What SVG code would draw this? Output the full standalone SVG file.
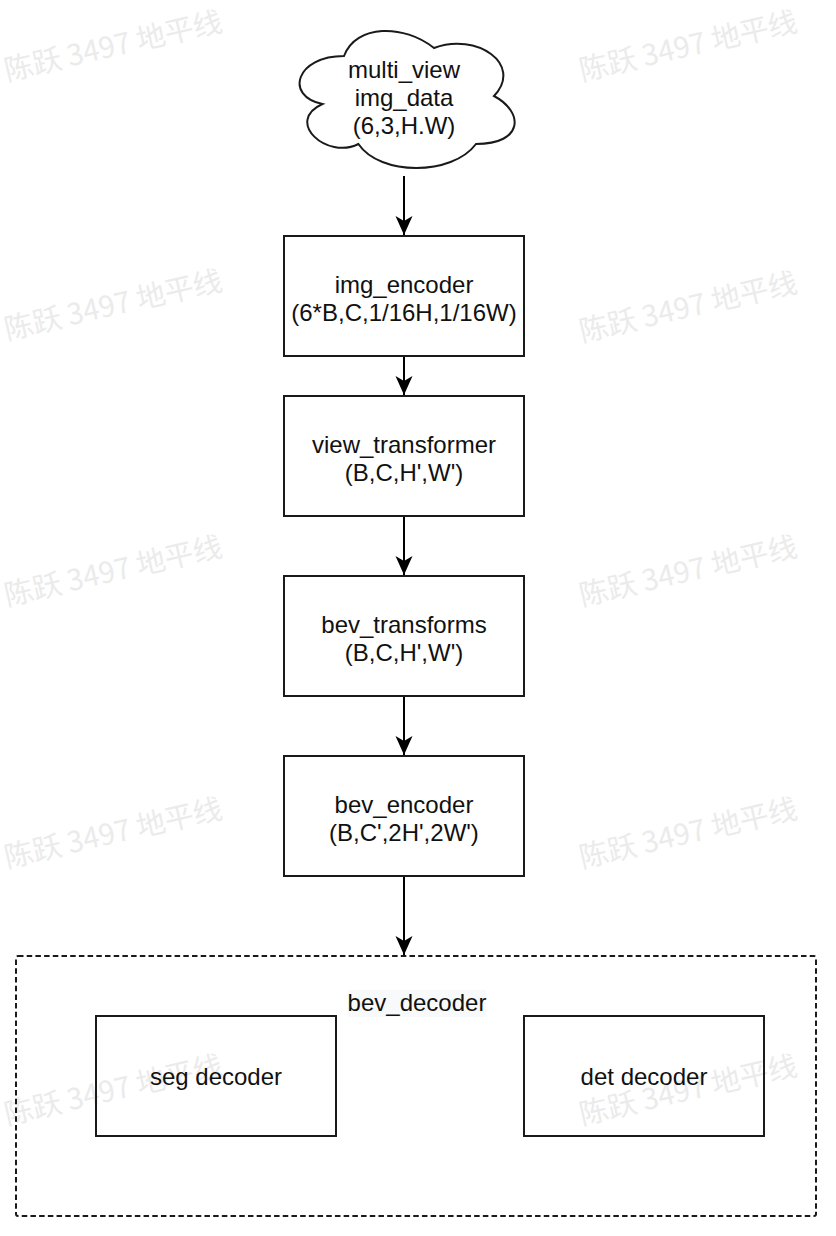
<svg xmlns="http://www.w3.org/2000/svg" width="836" height="1236" viewBox="0 0 836 1236">
<defs>
<style>
.box{fill:none;stroke:#1a1a1a;stroke-width:2}
.lbl{font-family:"Liberation Sans",Arial,sans-serif;font-size:24px;fill:#111;text-anchor:middle}
.edge{fill:none;stroke:#000;stroke-width:2}
.wm{font-family:"Noto Sans CJK SC","Noto Sans",sans-serif;font-size:29px;fill:#ebebeb}
</style>
<marker id="arr" viewBox="0 0 20 18" refX="19" refY="9" markerWidth="20" markerHeight="18" markerUnits="userSpaceOnUse" orient="auto">
<path d="M19,9 L0,0.5 L5,9 L0,17.5 Z" fill="#000"/>
</marker>
</defs>
<rect width="836" height="1236" fill="#fff"/>
<g id="watermarks">
<text class="wm" transform="translate(7,81) rotate(-13)">陈跃 3497 地平线</text>
<text class="wm" transform="translate(582,81) rotate(-13)">陈跃 3497 地平线</text>
<text class="wm" transform="translate(7,340) rotate(-13)">陈跃 3497 地平线</text>
<text class="wm" transform="translate(582,342) rotate(-13)">陈跃 3497 地平线</text>
<text class="wm" transform="translate(7,606) rotate(-13)">陈跃 3497 地平线</text>
<text class="wm" transform="translate(582,606) rotate(-13)">陈跃 3497 地平线</text>
<text class="wm" transform="translate(7,868) rotate(-13)">陈跃 3497 地平线</text>
<text class="wm" transform="translate(582,868) rotate(-13)">陈跃 3497 地平线</text>
<text class="wm" transform="translate(7,1125) rotate(-13)">陈跃 3497 地平线</text>
<text class="wm" transform="translate(582,1125) rotate(-13)">陈跃 3497 地平线</text>
</g>
<g id="connectors">
<line class="edge" x1="404" y1="176" x2="404" y2="235" marker-end="url(#arr)"/>
<line class="edge" x1="404" y1="356" x2="404" y2="395" marker-end="url(#arr)"/>
<line class="edge" x1="404" y1="516" x2="404" y2="575" marker-end="url(#arr)"/>
<line class="edge" x1="404" y1="696" x2="404" y2="755" marker-end="url(#arr)"/>
<line class="edge" x1="404" y1="876" x2="404" y2="955" marker-end="url(#arr)"/>
</g>
<g id="multi_view">
<path class="box" d="M344,56 C296,56 284,96 322.4,104 C284,121.6 327.2,160 358.4,144 C380,176 452,176 476,144 C524,144 524,112 494,96 C524,64 476,32 434,48 C404,24 356,24 344,56 Z"/>
<text class="lbl" x="404" y="78">multi_view</text>
<text class="lbl" x="404" y="106">img_data</text>
<text class="lbl" x="404" y="134">(6,3,H.W)</text>
</g>
<g id="img_encoder">
<rect class="box" x="284" y="236" width="240" height="120"/>
<text class="lbl" x="404" y="292.5">img_encoder</text>
<text class="lbl" x="404" y="320.5">(6*B,C,1/16H,1/16W)</text>
</g>
<g id="view_transformer">
<rect class="box" x="284" y="396" width="240" height="120"/>
<text class="lbl" x="404" y="452.5">view_transformer</text>
<text class="lbl" x="404" y="480.5">(B,C,H',W')</text>
</g>
<g id="bev_transforms">
<rect class="box" x="284" y="576" width="240" height="120"/>
<text class="lbl" x="404" y="632.5">bev_transforms</text>
<text class="lbl" x="404" y="660.5">(B,C,H',W')</text>
</g>
<g id="bev_encoder">
<rect class="box" x="284" y="756" width="240" height="120"/>
<text class="lbl" x="404" y="812.5">bev_encoder</text>
<text class="lbl" x="404" y="840.5">(B,C',2H',2W')</text>
</g>
<g id="bev_decoder">
<rect x="16" y="956" width="800" height="260" rx="2" fill="none" stroke="#1a1a1a" stroke-width="2" stroke-dasharray="5.5 3.2"/>
<rect x="348" y="990" width="138" height="27" fill="#f8f9fa"/>
<text class="lbl" x="417" y="1011">bev_decoder</text>
</g>
<g id="seg_decoder">
<rect class="box" x="96" y="1016" width="240" height="120"/>
<text class="lbl" x="216" y="1085">seg decoder</text>
</g>
<g id="det_decoder">
<rect class="box" x="524" y="1016" width="240" height="120"/>
<text class="lbl" x="644" y="1085">det decoder</text>
</g>
</svg>
